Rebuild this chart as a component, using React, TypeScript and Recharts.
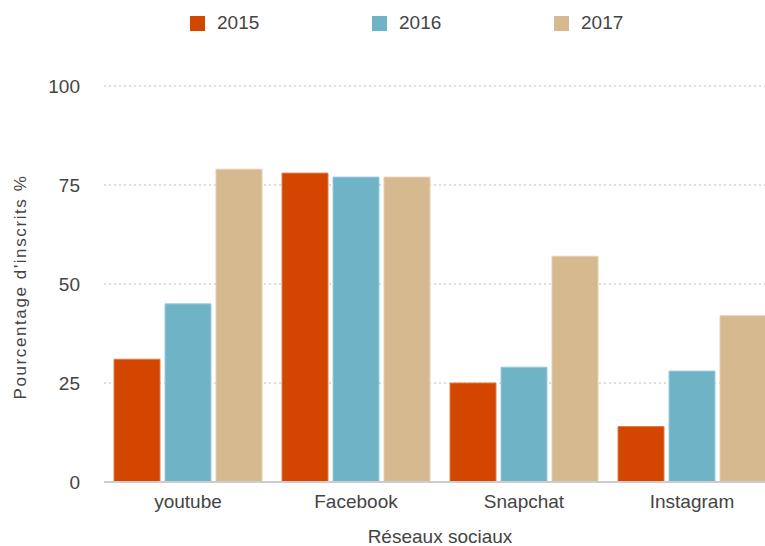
import { BarChart, Bar, XAxis, YAxis, CartesianGrid, Legend, Label } from 'recharts'

const reseaux = ['youtube', 'Facebook', 'Snapchat', 'Instagram']
const annees = ['2015', '2016', '2017']
const v2015 = [31, 78, 25, 14]
const v2016 = [45, 77, 29, 28]
const v2017 = [79, 77, 57, 42]
const yTicks = [0, 25, 50, 75, 100]
const couleurs = ['#D24600', '#6FB3C7', '#D6B98F']
const contours = ['#E07A4A', '#9CCBDA', '#E6D2B5']

const data = reseaux.map((r, i) => ({
  reseau: r,
  '2015': v2015[i],
  '2016': v2016[i],
  '2017': v2017[i],
}))

const police = '"Liberation Sans", Arial, Helvetica, sans-serif'
const gris = '#444'

function Legende({ payload }: any) {
  return (
    <div style={{ position: 'relative', height: 40, fontFamily: police }}>
      {(payload ?? []).map((p: any, i: number) => (
        <div
          key={p.value}
          style={{ position: 'absolute', left: 190 + i * 182, top: 12, display: 'flex', alignItems: 'center' }}
        >
          <span style={{ display: 'inline-block', width: 15, height: 15, background: p.color, marginRight: 12 }} />
          <span style={{ fontSize: 19, color: gris }}>{p.value}</span>
        </div>
      ))}
    </div>
  )
}

function TitreY({ viewBox }: any) {
  const cx = 20
  const cy = viewBox.y + viewBox.height / 2 + 3
  return (
    <text
      x={cx}
      y={cy}
      transform={`rotate(-90 ${cx} ${cy})`}
      textAnchor="middle"
      dominantBaseline="central"
      fontSize={17}
      letterSpacing={1.6}
      fill={gris}
      fontFamily={police}
    >
      Pourcentage d'inscrits %
    </text>
  )
}

export default function App() {
  return (
    <div style={{ position: 'absolute', left: 0, top: 0, width: 765, height: 546, overflow: 'hidden', background: '#fff' }}>
      <BarChart
        width={800}
        height={546}
        data={data}
        margin={{ top: 86, right: 24, left: 0, bottom: 0 }}
        barCategoryGap={10}
        barGap={5}
        style={{ fontFamily: police }}
      >
        <CartesianGrid vertical={false} stroke="#bbb" strokeDasharray="2 3" />
        <XAxis
          dataKey="reseau"
          height={64}
          tickLine={false}
          axisLine={{ stroke: '#ccc', strokeWidth: 2 }}
          tick={{ fontSize: 19, fill: gris }}
          tickMargin={7}
        >
          <Label value="Réseaux sociaux" position="insideBottom" offset={3} fontSize={19} fill={gris} />
        </XAxis>
        <YAxis
          width={104}
          domain={[0, 100]}
          ticks={yTicks}
          tickLine={false}
          axisLine={false}
          tick={{ fontSize: 19, fill: gris }}
          tickMargin={18}
        >
          <Label content={<TitreY />} />
        </YAxis>
        <Legend
          layout="horizontal"
          verticalAlign="middle"
          wrapperStyle={{ top: 0, left: 0, width: 765 }}
          content={<Legende />}
        />
        {annees.map((a, i) => (
          <Bar
            key={a}
            dataKey={a}
            name={a}
            fill={couleurs[i]}
            stroke={contours[i]}
            strokeWidth={1}
            isAnimationActive={false}
          />
        ))}
      </BarChart>
    </div>
  )
}
